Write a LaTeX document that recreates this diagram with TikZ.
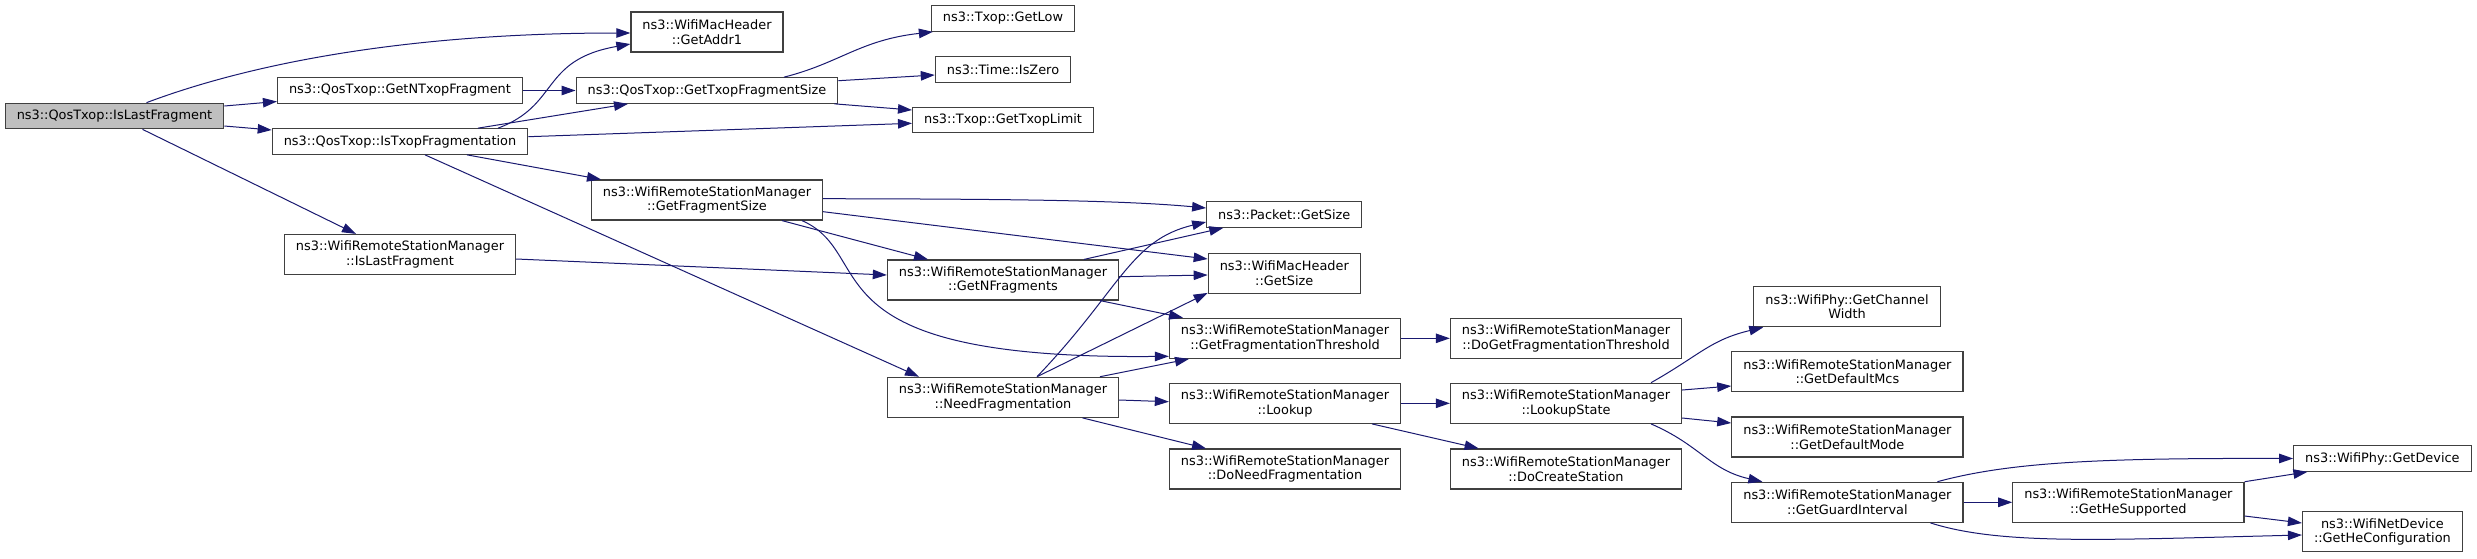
\documentclass[tikz,border=0pt]{standalone}
\usepackage{fontspec}
\setmainfont{DejaVu Sans}
\usetikzlibrary{arrows.meta}
\definecolor{callblue}{HTML}{191970}
\definecolor{boxline}{HTML}{404040}
\definecolor{focus}{HTML}{BFBFBF}
\tikzset{
  fn/.style={draw=boxline, fill=white, line width=1.2pt, inner xsep=11.5pt, inner ysep=0pt,
    minimum height=25.5pt, align=center},
  fnwide/.style={fn, minimum height=40pt},
  call/.style={draw=callblue, line width=1pt, -{Triangle[length=14pt,width=9.5pt]}}
}

\begin{document}
\begin{tikzpicture}[x=1pt,y=-1pt,font=\fontsize{12.9}{14.5}\selectfont]
  \path[use as bounding box,fill=white] (0,0) rectangle (2477,558);
  \node[fn,fill=focus] (root) at (114.5,116) {ns3::QosTxop::IsLastFragment};
  \foreach \id/\xx/\yy/\txt in {
    ntxop/400/90.5/{ns3::QosTxop::GetNTxopFragment},
    istxop/400/141.5/{ns3::QosTxop::IsTxopFragmentation},
    txopsize/707/90.5/{ns3::QosTxop::GetTxopFragmentSize},
    getlow/1003/18.5/{ns3::Txop::GetLow},
    iszero/1003/69.4/{ns3::Time::IsZero},
    txoplimit/1003/120/{ns3::Txop::GetTxopLimit},
    pktsize/1284.3/214.5/{ns3::Packet::GetSize},
    getdevice/2382.4/458.5/{ns3::WifiPhy::GetDevice}} {
      \node[fn] (\id) at (\xx,\yy) {\txt};
  }
  \foreach \id/\xx/\yy/\txt in {
    wlast/400/254.5/{ns3::WifiRemoteStationManager\\::IsLastFragment},
    addr1/707/32/{ns3::WifiMacHeader\\::GetAddr1},
    fragsize/707/200/{ns3::WifiRemoteStationManager\\::GetFragmentSize},
    nfrag/1003/280/{ns3::WifiRemoteStationManager\\::GetNFragments},
    needfrag/1003/397.3/{ns3::WifiRemoteStationManager\\::NeedFragmentation},
    machdr/1284.3/273.3/{ns3::WifiMacHeader\\::GetSize},
    fragthr/1285/338.3/{ns3::WifiRemoteStationManager\\::GetFragmentationThreshold},
    lookup/1285/403.3/{ns3::WifiRemoteStationManager\\::Lookup},
    doneed/1285/469/{ns3::WifiRemoteStationManager\\::DoNeedFragmentation},
    dofragthr/1566/338.3/{ns3::WifiRemoteStationManager\\::DoGetFragmentationThreshold},
    lookupstate/1566/403.3/{ns3::WifiRemoteStationManager\\::LookupState},
    docreate/1566/469/{ns3::WifiRemoteStationManager\\::DoCreateStation},
    chanwidth/1847/306.7/{ns3::WifiPhy::GetChannel\\Width},
    defmcs/1847.4/371.7/{ns3::WifiRemoteStationManager\\::GetDefaultMcs},
    defmode/1847.4/437/{ns3::WifiRemoteStationManager\\::GetDefaultMode},
    guard/1847.4/502.3/{ns3::WifiRemoteStationManager\\::GetGuardInterval},
    hesupp/2128.4/502.3/{ns3::WifiRemoteStationManager\\::GetHeSupported},
    heconf/2382.4/531.7/{ns3::WifiNetDevice\\::GetHeConfiguration}} {
      \node[fnwide] (\id) at (\xx,\yy) {\txt};
  }
  \draw[call] ([xshift=32pt]root.north) .. controls (260,60) and (420,33) .. ([yshift=-1pt]addr1.west);
  \draw[call] ([yshift=10pt]root.east) -- ([yshift=-11pt]ntxop.west);
  \draw[call] ([yshift=-10pt]root.east) -- ([yshift=11.5pt]istxop.west);
  \draw[call] ([xshift=28pt]root.south) -- ([xshift=-44pt]wlast.north);
  \draw[call] (ntxop) -- (txopsize);
  \draw[call] ([xshift=98pt]istxop.north) .. controls (560,105) and (540,60) .. ([yshift=-12pt]addr1.west);
  \draw[call] ([xshift=78pt]istxop.north) -- ([xshift=-79pt]txopsize.south);
  \draw[call] ([yshift=4.8pt]istxop.east) -- ([yshift=-3.3pt]txoplimit.west);
  \draw[call] ([xshift=67pt]istxop.south) -- ([xshift=-106pt]fragsize.north);
  \draw[call] ([xshift=25pt]istxop.south) -- ([xshift=-84pt]needfrag.north);
  \draw[call] ([xshift=77pt]txopsize.north) .. controls (840,63) and (860,40) .. ([xshift=2pt]getlow.south west);
  \draw[call] ([yshift=9.8pt]txopsize.east) -- ([yshift=-5.6pt]iszero.west);
  \draw[call] ([xshift=-4pt]txopsize.south east) -- ([yshift=10pt]txoplimit.west);
  \draw[call] ([yshift=-4.5pt]wlast.east) -- ([yshift=5pt]nfrag.west);
  \draw[call] ([yshift=1.3pt]fragsize.east) .. controls (1000,199) and (1120,200) .. ([yshift=6.5pt]pktsize.west);
  \draw[call] ([yshift=-11.7pt]fragsize.east) -- ([yshift=14.3pt]machdr.west);
  \draw[call] ([xshift=75pt]fragsize.south) -- ([xshift=-75pt]nfrag.north);
  \draw[call] ([xshift=95pt]fragsize.south) .. controls (880,255) and (800,360) .. ([yshift=-18pt]fragthr.west);
  \draw[call] ([xshift=81pt]nfrag.north) -- ([xshift=-61pt]pktsize.south);
  \draw[call] ([yshift=3.3pt]nfrag.east) -- ([yshift=-1.7pt]machdr.west);
  \draw[call] ([xshift=97pt]nfrag.south) -- ([xshift=-102pt]fragthr.north);
  \draw[call] ([xshift=34pt]needfrag.north) .. controls (1120,290) and (1130,240) .. ([yshift=-7.5pt]pktsize.west);
  \draw[call] ([xshift=34pt]needfrag.north) -- ([yshift=1pt]machdr.south west);
  \draw[call] ([xshift=97pt]needfrag.north) -- ([xshift=-96pt]fragthr.south);
  \draw[call] ([yshift=-2.7pt]needfrag.east) -- ([yshift=1.6pt]lookup.west);
  \draw[call] ([xshift=79.5pt]needfrag.south) -- ([xshift=-79pt]doneed.north);
  \draw[call] (fragthr) -- (dofragthr);
  \draw[call] (lookup) -- (lookupstate);
  \draw[call] ([xshift=87pt]lookup.south) -- ([xshift=-87.4pt]docreate.north);
  \draw[call] ([xshift=85pt]lookupstate.north) .. controls (1700,355) and (1710,340) .. ([xshift=10pt]chanwidth.south west);
  \draw[call] ([yshift=13.3pt]lookupstate.east) -- ([yshift=-14.3pt]defmcs.west);
  \draw[call] ([yshift=-14.7pt]lookupstate.east) -- ([yshift=14pt]defmode.west);
  \draw[call] ([xshift=85pt]lookupstate.south) .. controls (1700,445) and (1710,470) .. ([xshift=-85pt]guard.north);
  \draw[call] ([xshift=90pt]guard.north) .. controls (2010,462) and (2100,458) .. (getdevice.west);
  \draw[call] (guard) -- (hesupp);
  \draw[call] ([xshift=83pt]guard.south) .. controls (2000,545) and (2100,540) .. ([yshift=-3.3pt]heconf.west);
  \draw[call] (hesupp.north east) -- ([xshift=-75pt]getdevice.south);
  \draw[call] ([yshift=-13.7pt]hesupp.east) -- ([yshift=8.7pt]heconf.west);
\end{tikzpicture}
\end{document}
